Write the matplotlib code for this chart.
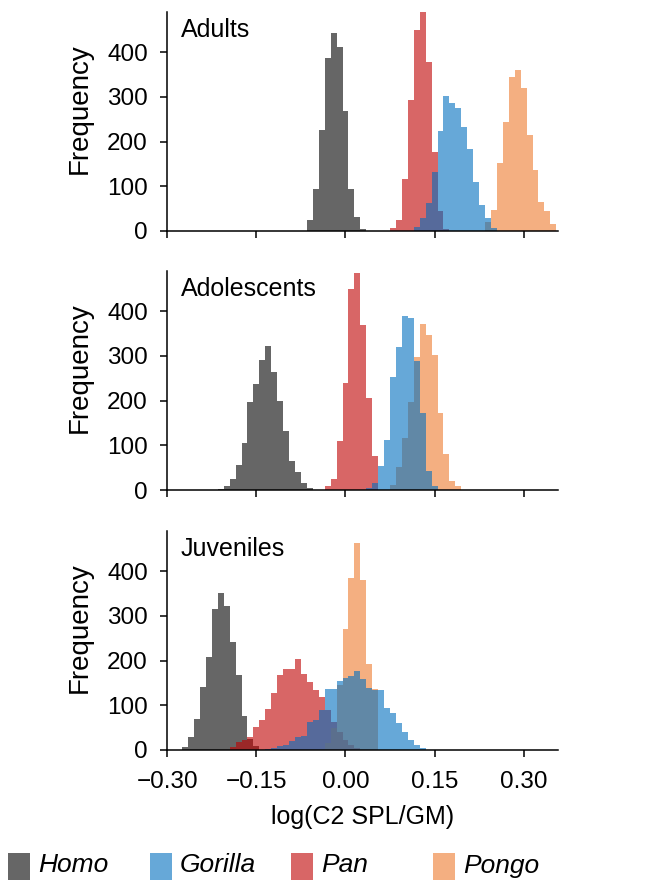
import numpy as np
import matplotlib.pyplot as plt
from matplotlib import font_manager
from matplotlib.patches import Rectangle

plt.rcParams["font.family"] = ["Liberation Sans", "DejaVu Sans"]

installed = {f.name for f in font_manager.fontManager.ttflist}
legend_family = "Liberation Sans Narrow" if "Liberation Sans Narrow" in installed else "Liberation Sans"

panels = ["Adults", "Adolescents", "Juveniles"]
legend_order = ["Homo", "Gorilla", "Pan", "Pongo"]
draw_order = ["Homo", "Pan", "Pongo", "Gorilla"]
bin_width = 0.01

# each series: left edge of first bin, then counts per 0.01 bin
adults_homo_x0 = -0.065
adults_homo = [24, 95, 226, 387, 443, 411, 268, 93, 31, 5]
adults_pan_x0 = 0.075
adults_pan = [7, 25, 117, 294, 450, 489, 378, 177, 45, 5]
adults_gorilla_x0 = 0.115
adults_gorilla = [9, 28, 63, 132, 223, 301, 287, 275, 232, 183, 109, 58, 30, 7]
adults_pongo_x0 = 0.235
adults_pongo = [20, 48, 153, 244, 344, 361, 320, 215, 136, 65, 45, 15]

adol_homo_x0 = -0.215
adol_homo = [3, 10, 25, 56, 106, 196, 237, 290, 322, 263, 200, 132, 64, 41, 16, 5]
adol_pan_x0 = -0.035
adol_pan = [8, 25, 110, 240, 450, 485, 370, 205, 77]
adol_gorilla_x0 = 0.035
adol_gorilla = [5, 15, 53, 111, 252, 321, 390, 385, 288, 172, 42, 10]
adol_pongo_x0 = 0.075
adol_pongo = [12, 51, 116, 198, 298, 372, 346, 303, 172, 81, 21, 10]

juv_homo_x0 = -0.275
juv_homo = [6, 30, 69, 142, 209, 315, 352, 323, 241, 168, 77, 25, 10]
juv_pan_x0 = -0.195
juv_pan = [6, 17, 22, 28, 52, 66, 92, 127, 168, 181, 182, 203, 170, 153, 134,
           119, 89, 63, 41, 22, 11, 5]
juv_gorilla_x0 = -0.135
juv_gorilla = [3, 5, 8, 12, 21, 28, 32, 63, 67, 89, 136, 136, 155, 160, 166, 176,
               159, 138, 134, 134, 93, 82, 60, 41, 22, 11, 4]
juv_pongo_x0 = -0.035
juv_pongo = [15, 50, 145, 270, 384, 463, 380, 192, 136]

xticks = [-0.30, -0.15, 0.00, 0.15, 0.30]
xtick_labels = ["\u22120.30", "\u22120.15", "0.00", "0.15", "0.30"]
yticks = [0, 100, 200, 300, 400]

series = {
    "Adults": {"Homo": (adults_homo_x0, adults_homo), "Pan": (adults_pan_x0, adults_pan),
               "Gorilla": (adults_gorilla_x0, adults_gorilla), "Pongo": (adults_pongo_x0, adults_pongo)},
    "Adolescents": {"Homo": (adol_homo_x0, adol_homo), "Pan": (adol_pan_x0, adol_pan),
                    "Gorilla": (adol_gorilla_x0, adol_gorilla), "Pongo": (adol_pongo_x0, adol_pongo)},
    "Juveniles": {"Homo": (juv_homo_x0, juv_homo), "Pan": (juv_pan_x0, juv_pan),
                  "Gorilla": (juv_gorilla_x0, juv_gorilla), "Pongo": (juv_pongo_x0, juv_pongo)},
}

# saturated colours drawn at alpha 0.6 -> overlaps darken like the original
colors = {"Homo": "#000000", "Gorilla": "#006ebf", "Pan": "#bf0000", "Pongo": "#ed7a2e"}
ALPHA = 0.6

fig = plt.figure(figsize=(6.6, 8.81), dpi=100)
bottoms = [0.7378, 0.4438, 0.1487]

for i, (name, bottom) in enumerate(zip(panels, bottoms)):
    ax = fig.add_axes([0.2535, bottom, 0.5912, 0.2486])
    for sp in draw_order:
        x0, counts = series[name][sp]
        edges = x0 + bin_width * np.arange(len(counts) + 1)
        ax.stairs(counts, edges, fill=True, color=colors[sp], alpha=ALPHA, linewidth=0)

    ax.set_xlim(-0.30, 0.357)
    ax.set_ylim(0, 490)
    ax.set_xticks(xticks)
    ax.set_yticks(yticks)
    for s in ("top", "right"):
        ax.spines[s].set_visible(False)
    for s in ("left", "bottom"):
        ax.spines[s].set_linewidth(1.1)
    ax.tick_params(axis="both", direction="out", length=5, width=1.1, labelsize=17.5)
    ax.tick_params(axis="y", pad=9)
    ax.tick_params(axis="x", pad=10)
    if i < 2:
        ax.tick_params(axis="x", labelbottom=False)
    else:
        ax.set_xticklabels(xtick_labels)
        ax.set_xlabel("log(C2 SPL/GM)", fontsize=18, labelpad=9)
    ax.set_ylabel("Frequency", fontsize=20)
    ax.yaxis.set_label_coords(-0.19, 0.56)
    ax.text(0.035, 0.972, name, transform=ax.transAxes, ha="left", va="top", fontsize=18)

# legend along the bottom
W, H = 660.0, 881.0
for j, sp in enumerate(legend_order):
    px = 8 + 141.7 * j
    fig.patches.append(Rectangle((px / W, 1.5 / H), 22 / W, 27 / H, transform=fig.transFigure,
                                 facecolor=colors[sp], alpha=ALPHA, linewidth=0))
    fig.text((px + 30) / W, 15.5 / H, sp, fontsize=19, style="italic",
             family=legend_family, ha="left", va="center")

fig.savefig("out.png", dpi=100)
